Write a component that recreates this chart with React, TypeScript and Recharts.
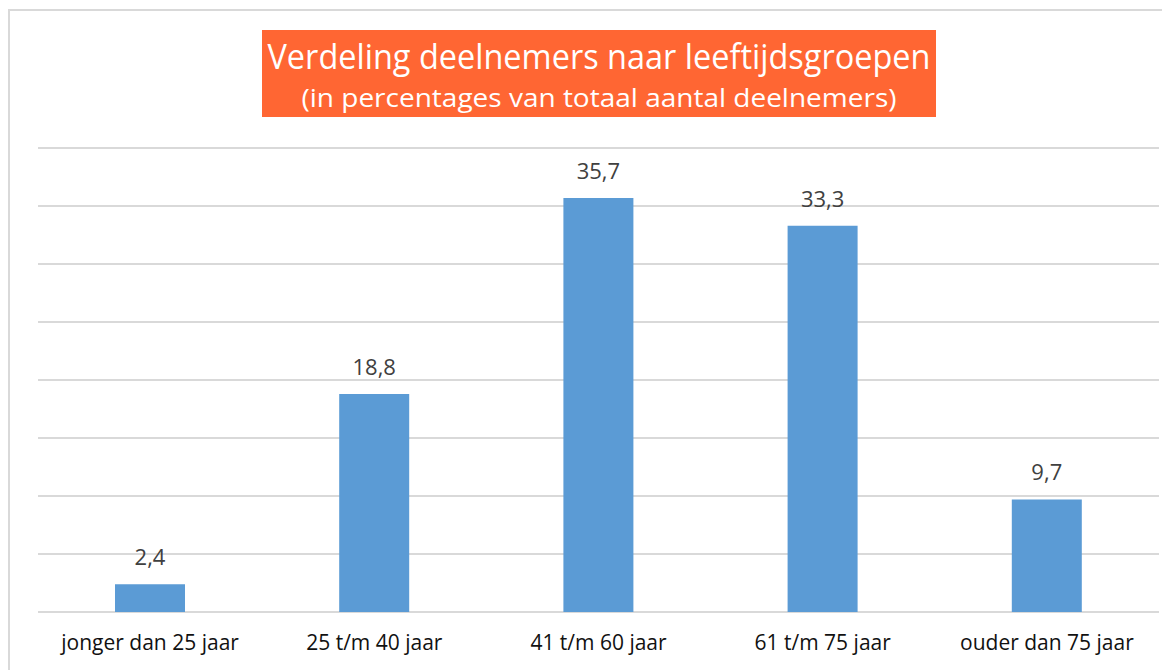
import React from "react";
import { BarChart, Bar, XAxis, YAxis, CartesianGrid, LabelList } from "recharts";

const categories = [
  "jonger dan 25 jaar",
  "25 t/m 40 jaar",
  "41 t/m 60 jaar",
  "61 t/m 75 jaar",
  "ouder dan 75 jaar",
];
const percentages = [2.4, 18.8, 35.7, 33.3, 9.7];
const yTicks = [0, 5, 10, 15, 20, 25, 30, 35, 40];
const titleLine1 = "Verdeling deelnemers naar leeftijdsgroepen";
const titleLine2 = "(in percentages van totaal aantal deelnemers)";

const data = categories.map((c, i) => ({ name: c, value: percentages[i] }));

const FONT = "'Open Sans', 'Liberation Sans', sans-serif";

export default function App() {
  return (
    <div
      style={{
        position: "relative",
        width: 1162,
        height: 662,
        overflow: "hidden",
        fontFamily: FONT,
      }}
    >
      <div
        style={{
          position: "absolute",
          left: 0,
          top: 1,
          width: 1300,
          height: 800,
          border: "2px solid #d9d9d9",
          boxSizing: "border-box",
        }}
      />
      <BarChart
        width={1162}
        height={662}
        data={data}
        margin={{ top: 140, left: 30, right: 11, bottom: 18 }}
        style={{ position: "absolute", left: 0, top: 0 }}
      >
        <CartesianGrid vertical={false} stroke="#d9d9d9" strokeWidth={2} />
        <YAxis hide domain={[0, 40]} ticks={yTicks} />
        <XAxis
          dataKey="name"
          axisLine={false}
          tickLine={false}
          height={40}
          interval={0}
          tick={{ fontSize: 21, fill: "#111111", fontFamily: FONT }}
          tickMargin={17}
        />
        <Bar dataKey="value" fill="#5b9bd5" barSize={70} isAnimationActive={false}>
          <LabelList
            dataKey="value"
            position="top"
            offset={19}
            formatter={(v: number) => v.toFixed(1).replace(".", ",")}
            style={{ fontSize: 22, fill: "#404040", fontFamily: FONT }}
          />
        </Bar>
      </BarChart>
      <svg
        width={1162}
        height={130}
        style={{ position: "absolute", left: 0, top: 0 }}
      >
        <rect x={254} y={22} width={674} height={87} fill="#ff6633" />
        <text
          x={591}
          y={61}
          textAnchor="middle"
          fontSize={35}
          fill="#ffffff"
          fontFamily={FONT}
          textLength={663}
          lengthAdjust="spacingAndGlyphs"
        >
          {titleLine1}
        </text>
        <text
          x={591}
          y={99}
          textAnchor="middle"
          fontSize={26}
          fill="#ffffff"
          fontFamily={FONT}
          textLength={595}
          lengthAdjust="spacingAndGlyphs"
        >
          {titleLine2}
        </text>
      </svg>
    </div>
  );
}
